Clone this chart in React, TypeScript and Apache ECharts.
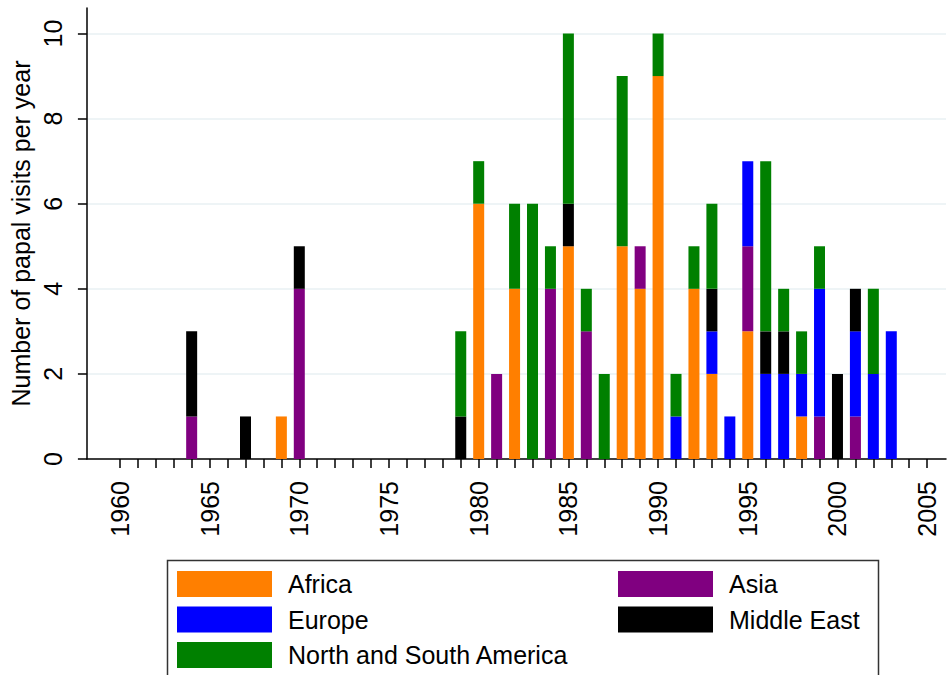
import React, { useEffect, useRef } from "react";
import * as echarts from "echarts";

// Years with at least one papal visit
const years = [
  1964, 1967, 1969, 1970, 1979, 1980, 1981, 1982, 1983, 1984, 1985, 1986, 1987,
  1988, 1989, 1990, 1991, 1992, 1993, 1994, 1995, 1996, 1997, 1998, 1999, 2000,
  2001, 2002, 2003,
];
const africa = [0, 0, 1, 0, 0, 6, 0, 4, 0, 0, 5, 0, 0, 5, 4, 9, 0, 4, 2, 0, 3, 0, 0, 1, 0, 0, 0, 0, 0];
const asia = [1, 0, 0, 4, 0, 0, 2, 0, 0, 4, 0, 3, 0, 0, 1, 0, 0, 0, 0, 0, 2, 0, 0, 0, 1, 0, 1, 0, 0];
const europe = [0, 0, 0, 0, 0, 0, 0, 0, 0, 0, 0, 0, 0, 0, 0, 0, 1, 0, 1, 1, 2, 2, 2, 1, 3, 0, 2, 2, 3];
const middleEast = [2, 1, 0, 1, 1, 0, 0, 0, 0, 0, 1, 0, 0, 0, 0, 0, 0, 0, 1, 0, 0, 1, 1, 0, 0, 2, 1, 0, 0];
const americas = [0, 0, 0, 0, 2, 1, 0, 2, 6, 1, 4, 1, 2, 4, 0, 1, 1, 1, 2, 0, 0, 4, 1, 1, 1, 0, 0, 2, 0];

const tickYears: number[] = [];
for (let y = 1960; y <= 2005; y++) tickYears.push(y);
const labelYears = [1960, 1965, 1970, 1975, 1980, 1985, 1990, 1995, 2000, 2005];
const yTicks = [0, 2, 4, 6, 8, 10];

const FONT = "'Liberation Sans', Arial, Helvetica, sans-serif";
const FS = 25;

const regions = [
  { name: "Africa", values: africa, color: "#ff7f00" },
  { name: "Asia", values: asia, color: "#800080" },
  { name: "Europe", values: europe, color: "#0000ff" },
  { name: "Middle East", values: middleEast, color: "#000000" },
  { name: "North and South America", values: americas, color: "#008000" },
];

export default function App() {
  const ref = useRef<HTMLDivElement>(null);
  useEffect(() => {
    if (!ref.current) return;
    const chart = echarts.init(ref.current, undefined, { renderer: "svg" });
    const legendText = {
      fontSize: FS,
      color: "#000",
      fontFamily: FONT,
      padding: [0, 0, 0, 11],
    };
    const legendBase = {
      orient: "vertical",
      top: 571,
      padding: 0,
      itemWidth: 95,
      itemHeight: 26,
      itemGap: 9.5,
      icon: "rect",
      selectedMode: false,
      textStyle: legendText,
    };
    chart.setOption({
      animation: false,
      backgroundColor: "#ffffff",
      textStyle: { fontFamily: FONT },
      grid: { left: 81, right: 3, top: 8, bottom: 216, containLabel: false },
      xAxis: {
        type: "value",
        min: 1958.16,
        max: 2006.05,
        axisLine: { show: true, lineStyle: { color: "#000", width: 1.5 } },
        axisTick: {
          show: true,
          length: 9,
          customValues: tickYears,
          lineStyle: { color: "#000", width: 1.5 },
        },
        axisLabel: {
          rotate: 90,
          margin: 22,
          fontSize: FS,
          color: "#000",
          fontFamily: FONT,
          customValues: labelYears,
          formatter: (v: number) => String(Math.round(v)),
        },
        splitLine: { show: false },
      },
      yAxis: {
        type: "value",
        min: 0,
        max: 10.6,
        interval: 2,
        name: "Number of papal visits per year",
        nameLocation: "middle",
        nameGap: 45,
        nameTextStyle: { fontSize: FS, color: "#000", fontFamily: FONT },
        axisLine: { show: true, lineStyle: { color: "#000", width: 1.5 } },
        axisTick: {
          show: true,
          length: 9,
          customValues: yTicks,
          lineStyle: { color: "#000", width: 1.5 },
        },
        axisLabel: {
          rotate: 90,
          margin: 21,
          fontSize: FS,
          color: "#000",
          fontFamily: FONT,
          customValues: yTicks,
        },
        splitLine: {
          show: true,
          showMinLine: false,
          lineStyle: { color: "#e9f0f3", width: 1.5 },
        },
      },
      legend: [
        { ...legendBase, left: 177, data: ["Africa", "Europe", "North and South America"] },
        { ...legendBase, left: 618, data: ["Asia", "Middle East"] },
      ],
      graphic: [
        {
          type: "rect",
          shape: { x: 167.5, y: 560.5, width: 711, height: 140 },
          style: { fill: "none", stroke: "#333", lineWidth: 1.5 },
          z: -1,
        },
      ],
      series: regions.map((r) => ({
        name: r.name,
        type: "bar",
        stack: "total",
        barWidth: 11,
        dimensions: ["count", "year"],
        encode: { x: "year", y: "count" },
        itemStyle: { color: r.color },
        data: years.map((y, i) => [r.values[i], y]),
      })),
    });
    return () => chart.dispose();
  }, []);
  return (
    <div
      ref={ref}
      style={{ position: "fixed", left: 0, top: 0, width: 949, height: 675, background: "#fff" }}
    />
  );
}
